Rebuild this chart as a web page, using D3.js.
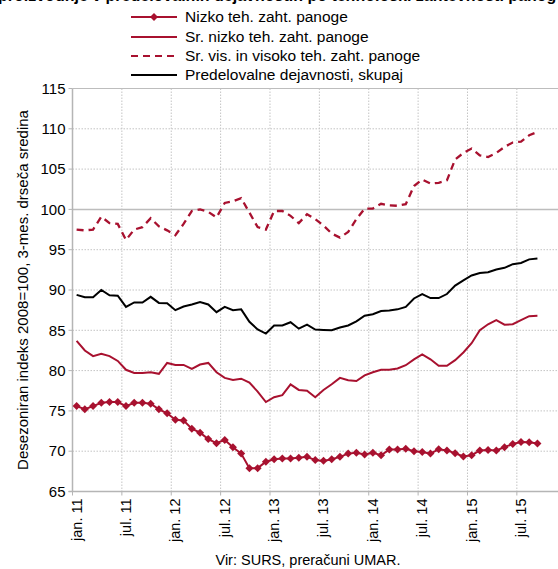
<!DOCTYPE html>
<html>
<head>
<meta charset="utf-8">
<script src="https://cdn.jsdelivr.net/npm/d3@7"></script>
<style>
  body { margin: 0; background: #fff; }
  svg { display: block; font-family: "Liberation Sans", Arial, sans-serif; }
</style>
</head>
<body>
<div id="chart"></div>
<script>
const width = 558, height = 569;

// series, jan 2011 .. sep 2015 (monthly)
const nizko = [75.6, 75.2, 75.6, 76.0, 76.1, 76.1, 75.6, 76.0, 76.0, 75.9, 75.2, 74.7, 73.9, 73.8, 72.8, 72.3, 71.5, 71.0, 71.4, 70.5,
  69.7, 67.9, 67.9, 68.7, 69.0, 69.1, 69.1, 69.2, 69.3, 68.9, 68.8, 69.0, 69.3, 69.7, 69.8, 69.6, 69.8, 69.5,
  70.2, 70.2, 70.3, 70.0, 69.9, 69.7, 70.25, 70.1, 69.75, 69.35, 69.5, 70.1, 70.15, 70.1, 70.5, 70.9, 71.15, 71.1, 70.95];
const srNizko = [83.7, 82.5, 81.8, 82.1, 81.8, 81.2, 80.1, 79.7, 79.7, 79.8, 79.6, 80.95, 80.7, 80.7, 80.2, 80.75, 80.95, 79.8, 79.1, 78.85,
  79.0, 78.5, 77.4, 76.1, 76.7, 76.95, 78.3, 77.6, 77.5, 76.7, 77.6, 78.3, 79.1, 78.8, 78.7, 79.4, 79.8, 80.1, 80.1,
  80.26, 80.67, 81.4, 82.0, 81.4, 80.6, 80.6, 81.3, 82.25, 83.4, 85.0, 85.75, 86.25, 85.7, 85.75, 86.25, 86.75, 86.8];
const srVisoko = [97.5, 97.4, 97.5, 99.1, 98.3, 98.2, 96.2, 97.5, 97.8, 98.9, 97.9, 97.4, 96.8, 98.2, 99.8, 100.0, 99.7, 99.0, 100.8, 101.0,
  101.4, 99.6, 97.8, 97.5, 99.8, 99.8, 99.2, 98.3, 99.4, 98.8, 98.0, 97.0, 96.5, 97.2, 98.8, 100.1, 100.1, 100.7, 100.5,
  100.45, 100.65, 102.9, 103.7, 103.2, 103.3, 103.6, 106.2, 107.0, 107.55, 106.7, 106.5, 107.0, 107.75, 108.3, 108.4, 109.2, 109.6];
const skupaj = [89.4, 89.1, 89.1, 90.0, 89.35, 89.3, 87.9, 88.45, 88.45, 89.15, 88.4, 88.35, 87.5, 87.95, 88.2, 88.5, 88.2, 87.25, 87.9, 87.5,
  87.6, 86.05, 85.1, 84.6, 85.6, 85.6, 86.0, 85.2, 85.7, 85.1, 85.05, 85.0, 85.35, 85.6, 86.1, 86.8, 87.0, 87.4, 87.45,
  87.6, 87.9, 88.95, 89.5, 89.0, 89.0, 89.5, 90.55, 91.2, 91.8, 92.1, 92.2, 92.55, 92.75, 93.2, 93.35, 93.8, 93.9];

const tickLabels = ["jan. 11", "jul. 11", "jan. 12", "jul. 12", "jan. 13", "jul. 13", "jan. 14", "jul. 14", "jan. 15", "jul. 15"];
const yTicks = [65, 70, 75, 80, 85, 90, 95, 100, 105, 110, 115];
const legendNames = ["Nizko teh. zaht. panoge", "Sr. nizko teh. zaht. panoge", "Sr. vis. in visoko teh. zaht. panoge", "Predelovalne dejavnosti, skupaj"];

const red = "#a8112f";

const x = d3.scaleLinear().domain([0, 59]).range([72.5, 558]);
const y = d3.scaleLinear().domain([65, 115]).range([491.5, 88.5]);

const svg = d3.select("#chart").append("svg")
  .attr("width", width)
  .attr("height", height);

// title line, cropped at the top edge like in the original
svg.append("text")
  .attr("x", -2).attr("y", 1)
  .style("font-size", "16px").style("font-weight", "bold")
  .text("proizvodnje v predelovalnih dejavnostih po tehnološki zahtevnosti panoge");

// gridlines
const grid = svg.append("g");
grid.selectAll(".hg")
  .data(yTicks.filter(d => d != 65))
  .enter().append("line")
    .attr("x1", x(0)).attr("x2", width)
    .attr("y1", d => y(d)).attr("y2", d => y(d))
    .attr("stroke", d => d == 100 || d == 115 ? "#bdbdbd" : "#c4c4c4")
    .attr("stroke-width", d => d == 100 ? 1.5 : 1)
    .style("stroke-dasharray", d => d == 100 || d == 115 ? null : "1.5,1.5");

grid.selectAll(".vg")
  .data(d3.range(1, 10))
  .enter().append("line")
    .attr("x1", d => x(d * 6)).attr("x2", d => x(d * 6))
    .attr("y1", y(115)).attr("y2", y(65))
    .attr("stroke", "#c4c4c4")
    .style("stroke-dasharray", "1.5,1.5");

// axes
svg.append("line")
  .attr("x1", x(0)).attr("x2", x(0)).attr("y1", y(115)).attr("y2", y(65))
  .attr("stroke", "#b5b5b5").attr("stroke-width", 1.5);
svg.append("line")
  .attr("x1", x(0) - 4).attr("x2", width).attr("y1", y(65)).attr("y2", y(65))
  .attr("stroke", "#b5b5b5").attr("stroke-width", 1.5);

svg.selectAll(".ytick")
  .data(yTicks)
  .enter().append("line")
    .attr("x1", x(0) - 4).attr("x2", x(0))
    .attr("y1", d => y(d)).attr("y2", d => y(d))
    .attr("stroke", "#b5b5b5");

svg.selectAll(".xtick")
  .data(d3.range(0, 10))
  .enter().append("line")
    .attr("x1", d => x(d * 6)).attr("x2", d => x(d * 6))
    .attr("y1", y(65)).attr("y2", y(65) + 4)
    .attr("stroke", "#b5b5b5");

svg.selectAll(".ylab")
  .data(yTicks)
  .enter().append("text")
    .attr("x", x(0) - 7)
    .attr("y", d => y(d))
    .attr("dy", "0.35em")
    .attr("text-anchor", "end")
    .style("font-size", "15px")
    .text(d => d);

svg.selectAll(".xlab")
  .data(tickLabels)
  .enter().append("text")
    .attr("transform", (d, i) => `translate(${x(i * 6 + 0.5) + 5},${y(65) + 7}) rotate(-90)`)
    .attr("text-anchor", "end")
    .style("font-size", "14.5px")
    .text(d => d);

svg.append("text")
  .attr("transform", `translate(28,${(y(115) + y(65)) / 2}) rotate(-90)`)
  .attr("text-anchor", "middle")
  .style("font-size", "15px")
  .text("Desezoniran indeks 2008=100, 3-mes. drseča sredina");

svg.append("text")
  .attr("x", 308).attr("y", 565)
  .attr("text-anchor", "middle")
  .style("font-size", "14.5px")
  .text("Vir: SURS, preračuni UMAR.");

// lines
const line = d3.line()
  .x((d, i) => x(i + 0.5))
  .y(d => y(d));

const plot = svg.append("g");

plot.append("path").datum(srVisoko)
  .attr("d", line).attr("fill", "none")
  .attr("stroke", red).attr("stroke-width", 2.3)
  .style("stroke-dasharray", "7,5");

plot.append("path").datum(skupaj)
  .attr("d", line).attr("fill", "none")
  .attr("stroke", "#000").attr("stroke-width", 2);

plot.append("path").datum(srNizko)
  .attr("d", line).attr("fill", "none")
  .attr("stroke", red).attr("stroke-width", 2);

plot.append("path").datum(nizko)
  .attr("d", line).attr("fill", "none")
  .attr("stroke", red).attr("stroke-width", 2);

const diamond = "M0,-4L4,0L0,4L-4,0Z";
plot.selectAll(".mk")
  .data(nizko)
  .enter().append("path")
    .attr("d", diamond)
    .attr("transform", (d, i) => `translate(${x(i + 0.5)},${y(d)})`)
    .attr("fill", red);

// legend
const legend = svg.append("g");
const legY = [17, 37, 56, 75];
legendNames.forEach((name, i) => {
  const g = legend.append("g").attr("transform", `translate(0,${legY[i]})`);
  g.append("line")
    .attr("x1", 131).attr("x2", 177)
    .attr("stroke", i == 3 ? "#000" : red)
    .attr("stroke-width", 2)
    .style("stroke-dasharray", i == 2 ? "7,5" : null);
  if (i == 0) g.append("path").attr("d", diamond).attr("transform", "translate(154,0)").attr("fill", red);
  g.append("text")
    .attr("x", 185).attr("dy", "0.35em")
    .style("font-size", "15.5px")
    .text(name);
});
</script>
</body>
</html>
